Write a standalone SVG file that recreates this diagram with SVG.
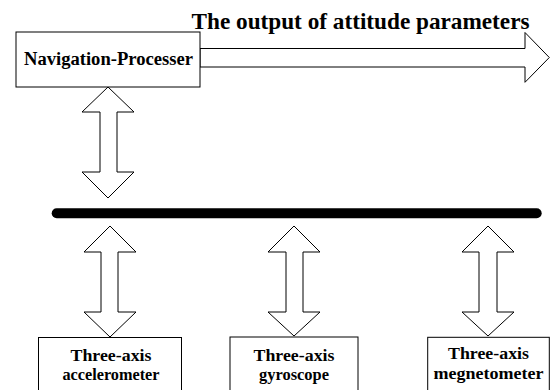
<svg xmlns="http://www.w3.org/2000/svg" width="550" height="390" viewBox="0 0 550 390">
<style>
.box{fill:#fff;stroke:#000;stroke-width:1}
.arr{fill:#fff;stroke:#000;stroke-width:1;stroke-linejoin:miter}
.t{font-family:"Liberation Serif","Times New Roman",serif;font-weight:bold;fill:#000;text-anchor:middle}
.s{font-size:17px}
</style>
<rect width="550" height="390" fill="#fff"/>
<text class="t" x="360.5" y="29" font-size="24" textLength="338" lengthAdjust="spacingAndGlyphs">The output of attitude parameters</text>
<g id="connectors">
<polygon class="arr" points="200,48.5 525,48.5 525,32.5 549.3,57.5 525,82.3 525,67 200,67"/>
<polygon class="arr" points="108,87 134,112 117,112 117,172 134,172 108,198 82,172 100,172 100,112 82,112"/>
<line x1="56.7" y1="213.3" x2="536.7" y2="213.3" stroke="#000" stroke-width="10" stroke-linecap="round"/>
<polygon class="arr" points="110,226 136,252 118,252 118,312 136,312 110,337 84,312 101,312 101,252 84,252"/>
<polygon class="arr" points="294,226 320,252 303,252 303,312 320,312 294,336 268,312 286,312 286,252 268,252"/>
<polygon class="arr" points="488,226 514,252 497,252 497,312 514,312 488,336 462,312 479,312 479,252 462,252"/>
</g>
<g id="nav">
<rect class="box" x="16" y="32" width="184" height="55"/>
<text class="t" x="108.5" y="64.5" font-size="18" textLength="169" lengthAdjust="spacingAndGlyphs">Navigation-Processer</text>
</g>
<g id="accel">
<rect class="box" x="38.5" y="337.5" width="143" height="60"/>
<text class="t s" x="111" y="360.5" textLength="81" lengthAdjust="spacingAndGlyphs">Three-axis</text>
<text class="t s" x="111" y="380" textLength="97" lengthAdjust="spacingAndGlyphs">accelerometer</text>
</g>
<g id="gyro">
<rect class="box" x="230" y="337" width="128" height="60"/>
<text class="t s" x="294" y="360.5" textLength="81" lengthAdjust="spacingAndGlyphs">Three-axis</text>
<text class="t s" x="294" y="380" textLength="70" lengthAdjust="spacingAndGlyphs">gyroscope</text>
</g>
<g id="magn">
<rect class="box" x="427.7" y="337.3" width="121.6" height="60"/>
<text class="t s" x="488.5" y="359" textLength="81" lengthAdjust="spacingAndGlyphs">Three-axis</text>
<text class="t s" x="488.5" y="378.5" textLength="110" lengthAdjust="spacingAndGlyphs">megnetometer</text>
</g>
</svg>
